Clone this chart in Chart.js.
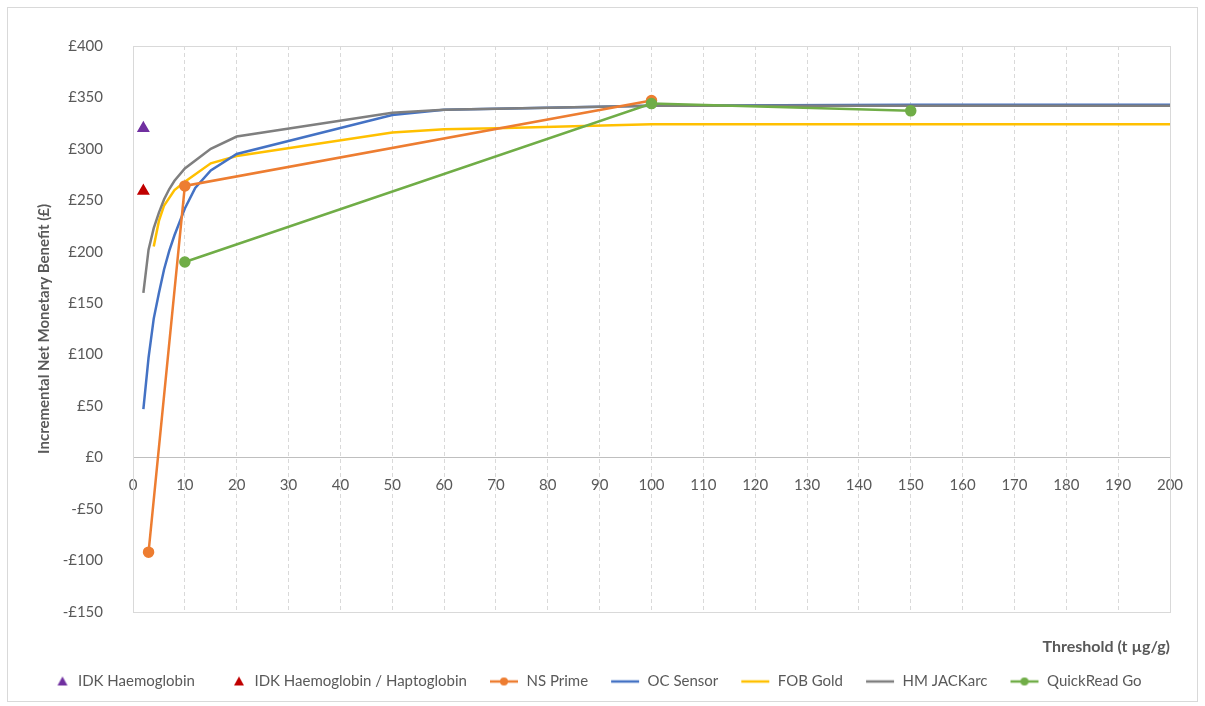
<!DOCTYPE html>
<html>
<head>
<meta charset="utf-8">
<script src="https://cdn.jsdelivr.net/npm/chart.js@4.4.0/dist/chart.umd.min.js"></script>
<style>
  html, body { margin: 0; padding: 0; background: #fff; }
  #wrap { width: 1205px; height: 706px; }
</style>
</head>
<body>
<div id="wrap"><canvas id="inmb" width="1205" height="706"></canvas></div>
<script>
// values
const idkHbX = [2];
const idkHbY = [320];
const idkHbHpX = [2];
const idkHbHpY = [259];

const nsPrimeX = [3, 10, 100];
const nsPrimeY = [-92, 264, 347];

const ocSensorX = [2, 3, 4, 5, 6, 7, 8, 10, 12, 15, 20, 50, 60, 100, 150, 200];
const ocSensorY = [47, 97, 135, 160, 183, 201, 216, 242, 262, 279, 295, 333, 338, 342, 343, 343];

const fobGoldX = [4, 5, 6, 8, 10, 15, 20, 50, 60, 70, 100, 150, 200];
const fobGoldY = [205, 230, 245, 260, 268, 286, 293, 316, 319, 320, 324, 324, 324];

const hmJackX = [2, 3, 4, 5, 6, 7, 8, 10, 15, 20, 50, 60, 100, 150, 200];
const hmJackY = [160, 202, 223, 238, 251, 261, 269, 281, 300, 312, 335, 338, 342, 342, 342];

const quickReadX = [10, 100, 150];
const quickReadY = [190, 344, 337];

const xTickMin = 0, xTickMax = 200, xStep = 10;
const yTickMin = -150, yTickMax = 400, yStep = 50;

const pts = (xs, ys) => xs.map((x, i) => ({ x: x, y: ys[i] }));

const FONT = "Lato, 'Open Sans', sans-serif";
const TXT = '#595959';
const ICON_W = 42;

// legend icons, Excel style; drawn at the right end of a wider slot to space items out
function lineIcon(color, dot) {
  const c = document.createElement('canvas');
  c.width = ICON_W; c.height = 12;
  const g = c.getContext('2d');
  g.strokeStyle = color; g.lineWidth = 2.5;
  g.beginPath(); g.moveTo(ICON_W - 29, 6); g.lineTo(ICON_W - 1, 6); g.stroke();
  if (dot) {
    g.fillStyle = color;
    g.beginPath(); g.arc(ICON_W - 15, 6, 4, 0, Math.PI * 2); g.fill();
  }
  return c;
}
function triIcon(color) {
  const c = document.createElement('canvas');
  c.width = ICON_W; c.height = 12;
  const g = c.getContext('2d');
  g.fillStyle = color;
  g.beginPath(); g.moveTo(ICON_W - 8, 1); g.lineTo(ICON_W - 3, 10); g.lineTo(ICON_W - 13, 10); g.closePath(); g.fill();
  return c;
}

const frame = {
  id: 'frame',
  beforeDraw(chart) {
    const { ctx } = chart;
    ctx.save();
    ctx.strokeStyle = '#d9d9d9';
    ctx.lineWidth = 1;
    ctx.strokeRect(7.5, 7.5, chart.width - 15, chart.height - 12);
    ctx.restore();
  },
  afterDraw(chart) {
    const { ctx, chartArea: a } = chart;
    ctx.save();
    ctx.strokeStyle = '#d9d9d9';
    ctx.lineWidth = 1;
    ctx.strokeRect(Math.round(a.left) + 0.5, Math.round(a.top) + 0.5,
      Math.round(a.right - a.left), Math.round(a.bottom - a.top));
    ctx.restore();
  }
};

const datasets = [
  { label: 'IDK Haemoglobin', data: pts(idkHbX, idkHbY), showLine: false,
    pointStyle: 'triangle', pointRadius: 5, backgroundColor: '#7030A0', borderColor: '#7030A0',
    order: 0, icon: triIcon('#7030A0') },
  { label: 'IDK Haemoglobin / Haptoglobin', data: pts(idkHbHpX, idkHbHpY), showLine: false,
    pointStyle: 'triangle', pointRadius: 5, backgroundColor: '#C00000', borderColor: '#C00000',
    order: 0, icon: triIcon('#C00000') },
  { label: 'NS Prime', data: pts(nsPrimeX, nsPrimeY), borderColor: '#ED7D31', backgroundColor: '#ED7D31',
    pointRadius: 4.5, order: 2, icon: lineIcon('#ED7D31', true) },
  { label: 'OC Sensor', data: pts(ocSensorX, ocSensorY), borderColor: '#4472C4', backgroundColor: '#4472C4',
    pointRadius: 0, order: 4, icon: lineIcon('#4472C4', false) },
  { label: 'FOB Gold', data: pts(fobGoldX, fobGoldY), borderColor: '#FFC000', backgroundColor: '#FFC000',
    pointRadius: 0, order: 5, icon: lineIcon('#FFC000', false) },
  { label: 'HM JACKarc', data: pts(hmJackX, hmJackY), borderColor: '#7F7F7F', backgroundColor: '#7F7F7F',
    pointRadius: 0, order: 3, icon: lineIcon('#7F7F7F', false) },
  { label: 'QuickRead Go', data: pts(quickReadX, quickReadY), borderColor: '#70AD47', backgroundColor: '#70AD47',
    pointRadius: 4.5, order: 1, icon: lineIcon('#70AD47', true) }
];

new Chart(document.getElementById('inmb'), {
  type: 'scatter',
  data: { datasets: datasets.map(d => Object.assign({ showLine: true, borderWidth: 2.5, tension: 0 }, d)) },
  options: {
    responsive: false,
    animation: false,
    events: [],
    layout: { padding: { left: 0, right: 35, top: 46, bottom: 7 } },
    scales: {
      x: {
        type: 'linear',
        position: { y: 0 },
        min: xTickMin, max: xTickMax,
        ticks: { stepSize: xStep, color: TXT, font: { family: FONT, size: 15 }, padding: 19, maxRotation: 0 },
        grid: { color: '#d9d9d9', lineWidth: 1, drawTicks: false },
        border: { display: true, color: '#bfbfbf', width: 1, dash: [4, 3] }
      },
      xTitle: {
        type: 'linear',
        axis: 'x',
        position: 'bottom',
        min: xTickMin, max: xTickMax,
        ticks: { display: false },
        grid: { display: false },
        border: { display: false },
        title: { display: true, text: 'Threshold (t µg/g)', align: 'end', color: TXT,
          font: { family: FONT, size: 16, weight: 'bold' }, padding: { top: 17, bottom: 8 } }
      },
      y: {
        min: yTickMin, max: yTickMax,
        ticks: { stepSize: yStep, color: TXT, font: { family: FONT, size: 15 }, padding: 22,
          callback: v => (v < 0 ? '-£' + Math.abs(v) : '£' + v) },
        grid: { display: false },
        border: { display: false },
        title: { display: true, text: 'Incremental Net Monetary Benefit (£)', color: TXT,
          font: { family: FONT, size: 15, weight: 'bold' }, padding: { top: 35, bottom: 0 } },
        afterFit: s => { s.width = 133; }
      }
    },
    plugins: {
      tooltip: { enabled: false },
      legend: {
        position: 'bottom',
        labels: {
          usePointStyle: true,
          pointStyleWidth: ICON_W,
          padding: 10,
          color: TXT,
          font: { family: FONT, size: 15 },
          sort: (a, b) => a.datasetIndex - b.datasetIndex,
          generateLabels: chart => {
            const items = Chart.defaults.plugins.legend.labels.generateLabels(chart);
            items.forEach(it => { it.pointStyle = chart.data.datasets[it.datasetIndex].icon; });
            return items;
          }
        }
      }
    }
  },
  plugins: [frame]
});
</script>
</body>
</html>
